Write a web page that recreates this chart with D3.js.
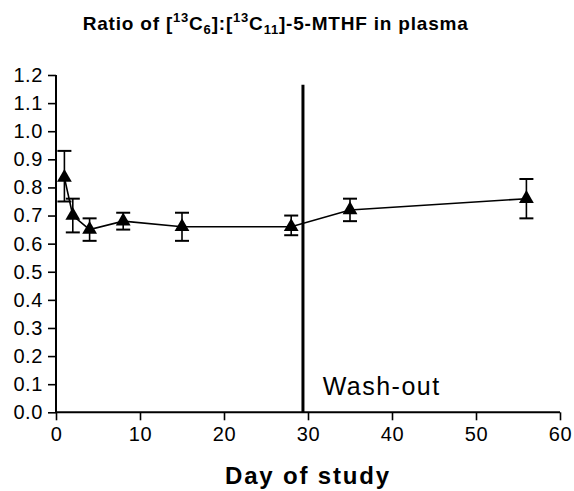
<!DOCTYPE html>
<html><head><meta charset="utf-8">
<script src="https://cdn.jsdelivr.net/npm/d3@7"></script>
<style>
body{margin:0;background:#fff;}
svg{display:block;font-family:"Liberation Sans",Arial,sans-serif;}
</style></head>
<body><svg id="c" width="574" height="491"></svg>
<script>
const days = [1, 2, 4, 8, 15, 28, 35, 56];
const ratio = [0.835, 0.70, 0.65, 0.68, 0.66, 0.66, 0.72, 0.76];
const errHigh = [0.93, 0.76, 0.69, 0.71, 0.71, 0.70, 0.76, 0.83];
const errLow = [0.75, 0.64, 0.61, 0.65, 0.61, 0.63, 0.68, 0.69];
const washoutDay = 29.4;
const xTicks = [0, 10, 20, 30, 40, 50, 60];
const yTicks = [0, 0.1, 0.2, 0.3, 0.4, 0.5, 0.6, 0.7, 0.8, 0.9, 1.0, 1.1, 1.2];
const titleParts = [
  {t:"Ratio of [", k:"n"}, {t:"13", k:"sup"}, {t:"C", k:"n"}, {t:"6", k:"sub"},
  {t:"]:[", k:"n"}, {t:"13", k:"sup"}, {t:"C", k:"n"}, {t:"11", k:"sub"},
  {t:"]-5-MTHF in plasma", k:"n"}
];
const xLabel = "Day of study";
const washoutLabel = "Wash-out";

const svg = d3.select("#c");
const x = d3.scaleLinear().domain([0, 60]).range([56, 560]);
const y = d3.scaleLinear().domain([0, 1.2]).range([412.3, 75]);

function fitWidth(sel, target){
  const n = sel.text().length;
  const w = sel.node().getComputedTextLength();
  sel.attr("letter-spacing", ((target - w) / n).toFixed(2));
}

// axes
const xAxis = svg.append("g").attr("transform", "translate(0,412.3)")
  .call(d3.axisBottom(x).tickValues(xTicks).tickSize(8).tickPadding(6).tickFormat(d3.format("d")));
const yAxis = svg.append("g").attr("transform", "translate(56,0)")
  .call(d3.axisLeft(y).tickValues(yTicks).tickSize(8).tickPadding(5).tickFormat(d3.format(".1f")));
[xAxis, yAxis].forEach(a => {
  a.select(".domain").attr("stroke", "#000").attr("stroke-width", 2);
  a.selectAll(".tick line").attr("stroke", "#000").attr("stroke-width", 1.6);
  a.selectAll(".tick text").attr("fill", "#000").style("font-size", "20px")
    .style("font-family", "'Liberation Sans',Arial,sans-serif").attr("letter-spacing", "0.6");
});
yAxis.select(".domain").attr("d", `M0,${y(0)}V${y(1.2)}`);
yAxis.selectAll(".tick line").attr("x2", -8);
yAxis.selectAll(".tick text").attr("x", -13);
xAxis.select(".domain").attr("d", `M${x(0)},0H${x(60)}`);
xAxis.selectAll(".tick text").attr("y", 15).attr("dy", "0.71em");

// washout line
svg.append("line").attr("x1", x(washoutDay)).attr("x2", x(washoutDay))
  .attr("y1", 84.7).attr("y2", y(0)).attr("stroke", "#000").attr("stroke-width", 3);
const wt = svg.append("text").attr("x", 322.7).attr("y", 394.7)
  .style("font-size", "25px").text(washoutLabel);
fitWidth(wt, 118);

// connecting line
svg.append("path").datum(days.map((d, i) => [d, ratio[i]]))
  .attr("fill", "none").attr("stroke", "#000").attr("stroke-width", 1.6)
  .attr("d", d3.line().x(d => x(d[0])).y(d => y(d[1])));

// error bars
const eb = svg.append("g").attr("stroke", "#000");
days.forEach((d, i) => {
  eb.append("line").attr("x1", x(d)).attr("x2", x(d)).attr("y1", y(errHigh[i])).attr("y2", y(errLow[i])).attr("stroke-width", 1.6);
  [errHigh[i], errLow[i]].forEach(v => {
    eb.append("line").attr("x1", x(d) - 7).attr("x2", x(d) + 7).attr("y1", y(v)).attr("y2", y(v)).attr("stroke-width", 2);
  });
});

// triangles
svg.append("g").selectAll("path").data(days).join("path")
  .attr("transform", (d, i) => `translate(${x(d)},${y(ratio[i])})`)
  .attr("d", d3.symbol(d3.symbolTriangle, 95)).attr("fill", "#000");

// x label
const xl = svg.append("text").attr("x", 308).attr("y", 484).attr("text-anchor", "middle")
  .style("font-size", "24px").style("font-weight", "bold").text(xLabel);
fitWidth(xl, 166);

// title
const tt = svg.append("text").attr("x", 82.7).attr("y", 30)
  .style("font-size", "19px").style("font-weight", "bold");
let prev = "n";
titleParts.forEach(p => {
  const off = k => k === "sup" ? -8 : k === "sub" ? 4 : 0;
  const dy = off(p.k) - off(prev);
  tt.append("tspan").attr("dy", dy).style("font-size", p.k === "n" ? "19px" : "13px").text(p.t);
  prev = p.k;
});
fitWidth(tt, 386);
</script></body></html>
